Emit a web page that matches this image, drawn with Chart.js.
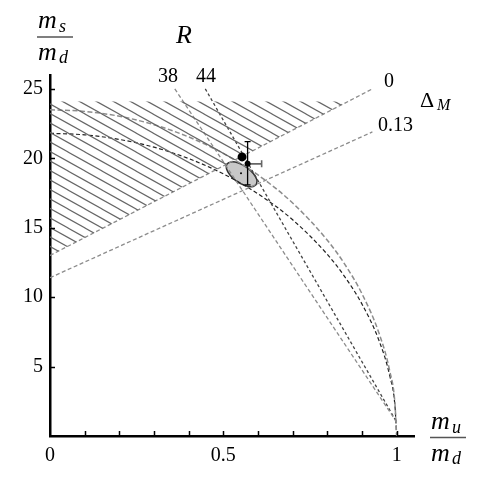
<!DOCTYPE html>
<html>
<head>
<meta charset="utf-8">
<script src="https://cdn.jsdelivr.net/npm/chart.js@4.4.1/dist/chart.umd.min.js"></script>
<style>
  html, body { margin: 0; padding: 0; background: #fff; }
  #wrap { width: 482px; height: 482px; }
</style>
</head>
<body>
<div id="wrap"><canvas id="chart" width="482" height="482"></canvas></div>
<script>
// axis ticks
const xTickValues = [0, 0.1, 0.2, 0.3, 0.4, 0.5, 0.6, 0.7, 0.8, 0.9, 1];
const xTickLabels = ["0", "", "", "", "", "0.5", "", "", "", "", "1"];
const yTickValues = [5, 10, 15, 20, 25];
const yTickLabels = ["5", "10", "15", "20", "25"];

// Delta_M lines (0 and 0.13)
const delta0X = [0, 0.93];
const delta0Y = [13.0, 25.0];
const delta13X = [0, 0.93];
const delta13Y = [11.4, 21.9];

// R lines (38 and 44)
const r38X = [0.36, 1.0];
const r38Y = [25.0, 1.0];
const r44X = [0.448, 1.0];
const r44Y = [25.0, 1.0];

// Q ellipses (upper grey and lower dark)
const qX = [0, 0.1, 0.2, 0.3, 0.4, 0.5, 0.6, 0.7, 0.8, 0.85, 0.9, 0.95, 0.98, 0.995, 1];
const qUpperY = [23.5, 23.38, 23.03, 22.42, 21.54, 20.35, 18.8, 16.78, 14.1, 12.38, 10.24, 7.34, 4.68, 2.35, 0];
const qLowerY = [21.8, 21.69, 21.36, 20.8, 19.98, 18.88, 17.44, 15.57, 13.08, 11.48, 9.5, 6.81, 4.34, 2.18, 0];

// hatched (excluded) region
const hatchX = [0, 0, 0.86, 0];
const hatchY = [13.0, 24.1, 24.1, 13.0];

// error ellipse outline
const ellX = [0.5953, 0.5826, 0.5622, 0.5388, 0.5195, 0.5091, 0.5105, 0.5232, 0.5440, 0.5671, 0.5864, 0.5968, 0.5953];
const ellY = [18.106, 17.955, 18.041, 18.344, 18.783, 19.244, 19.590, 19.741, 19.654, 19.352, 18.913, 18.452, 18.106];
const ellCenter = [0.551, 18.92];

// data points
const bigDot = [0.554, 20.1];
const errPoint = [0.570, 19.6];
const errY = [18.08, 21.2];
const errX = [0.570, 0.6105];

function pts(xs, ys) {
  return xs.map((x, i) => ({ x: x, y: ys[i] }));
}

function makeHatch() {
  const w = 17, h = 9.5;
  const c = document.createElement("canvas");
  c.width = w; c.height = Math.round(h * 2);
  const g = c.getContext("2d");
  g.strokeStyle = "#666";
  g.lineWidth = 1.1;
  const hh = c.height / 2;
  for (let k = -1; k <= 2; k++) {
    g.beginPath();
    g.moveTo(-w, -hh + k * hh);
    g.lineTo(2 * w, 2 * hh + k * hh);
    g.stroke();
  }
  return g.createPattern(c, "repeat");
}

function line(data, color, dash, width) {
  return {
    data: data, showLine: true, fill: false,
    borderColor: color, borderWidth: width || 1.3, borderDash: dash,
    pointRadius: 0, tension: 0
  };
}

const serif = "'Liberation Serif', 'DejaVu Serif', serif";

const decorations = {
  id: "decorations",
  afterDatasetsDraw(chart) {
    const { ctx, scales: { x, y }, chartArea } = chart;
    ctx.save();
    // inward tick marks
    ctx.strokeStyle = "#000";
    ctx.lineWidth = 1.5;
    xTickValues.forEach((v) => {
      if (v === 0) return;
      const px = Math.round(x.getPixelForValue(v)) + 0.5;
      ctx.beginPath();
      ctx.moveTo(px, chartArea.bottom);
      ctx.lineTo(px, chartArea.bottom - 5);
      ctx.stroke();
    });
    yTickValues.forEach((v) => {
      const py = Math.round(y.getPixelForValue(v)) + 0.5;
      ctx.beginPath();
      ctx.moveTo(chartArea.left, py);
      ctx.lineTo(chartArea.left + 5, py);
      ctx.stroke();
    });

    // error bars
    const ex = x.getPixelForValue(errPoint[0]);
    const y1 = y.getPixelForValue(errY[0]);
    const y2 = y.getPixelForValue(errY[1]);
    ctx.strokeStyle = "#000";
    ctx.lineWidth = 1.3;
    ctx.beginPath();
    ctx.moveTo(ex, y1); ctx.lineTo(ex, y2);
    ctx.moveTo(ex - 3, y1); ctx.lineTo(ex + 3, y1);
    ctx.moveTo(ex - 3, y2); ctx.lineTo(ex + 3, y2);
    ctx.stroke();
    const ey = y.getPixelForValue(errPoint[1]);
    const x2 = x.getPixelForValue(errX[1]);
    ctx.strokeStyle = "#666";
    ctx.lineWidth = 1.6;
    ctx.beginPath();
    ctx.moveTo(ex, ey); ctx.lineTo(x2, ey);
    ctx.moveTo(x2, ey - 3.5); ctx.lineTo(x2, ey + 3.5);
    ctx.stroke();

    // dots
    ctx.fillStyle = "#000";
    ctx.beginPath();
    ctx.arc(x.getPixelForValue(bigDot[0]), y.getPixelForValue(bigDot[1]), 4.5, 0, Math.PI * 2);
    ctx.fill();
    ctx.beginPath();
    ctx.arc(ex, ey, 3, 0, Math.PI * 2);
    ctx.fill();
    ctx.beginPath();
    ctx.arc(x.getPixelForValue(ellCenter[0]), y.getPixelForValue(ellCenter[1]), 1, 0, Math.PI * 2);
    ctx.fill();

    // labels
    ctx.fillStyle = "#000";
    ctx.textBaseline = "alphabetic";
    ctx.textAlign = "center";
    ctx.font = "20px " + serif;
    ctx.fillText("38", 168, 82);
    ctx.fillText("44", 206, 82);
    ctx.textAlign = "left";
    ctx.fillText("0", 384, 87);
    ctx.fillText("0.13", 378, 131);
    ctx.font = "italic 26px " + serif;
    ctx.textAlign = "center";
    ctx.fillText("R", 184, 43);
    ctx.textAlign = "left";
    ctx.font = "22px " + serif;
    ctx.fillText("\u0394", 420, 107);
    ctx.font = "italic 16px " + serif;
    ctx.fillText("M", 437, 110);

    // axis titles as fractions
    function frac(cx, topBase, barY, botBase, sub1, sub2) {
      ctx.font = "italic 26px " + serif;
      ctx.textAlign = "left";
      ctx.fillText("m", cx - 17, topBase);
      ctx.fillText("m", cx - 17, botBase);
      ctx.font = "italic 18px " + serif;
      ctx.fillText(sub1, cx + 4, topBase + 4);
      ctx.fillText(sub2, cx + 4, botBase + 3);
      ctx.strokeStyle = "#555";
      ctx.lineWidth = 1.5;
      ctx.beginPath();
      ctx.moveTo(cx - 18, barY);
      ctx.lineTo(cx + 18, barY);
      ctx.stroke();
    }
    frac(55, 28, 37, 60, "s", "d");
    frac(448, 429, 437.5, 461, "u", "d");
    ctx.restore();
  }
};

const ctx = document.getElementById("chart");
const hatch = makeHatch();

new Chart(ctx, {
  type: "scatter",
  data: {
    datasets: [
      {
        data: pts(hatchX, hatchY), showLine: true, fill: "shape",
        backgroundColor: hatch, borderColor: "rgba(0,0,0,0)", borderWidth: 0,
        pointRadius: 0, tension: 0
      },
      line(pts(delta0X, delta0Y), "#8c8c8c", [4, 2.5]),
      line(pts(delta13X, delta13Y), "#8c8c8c", [4, 2.5]),
      line(pts(r38X, r38Y), "#8c8c8c", [4, 2.5]),
      line(pts(r44X, r44Y), "#444", [3, 2.5]),
      Object.assign(line(pts(qX, qUpperY), "#8c8c8c", [5, 2.5], 1.5), { cubicInterpolationMode: "monotone" }),
      Object.assign(line(pts(qX, qLowerY), "#222", [4, 2.5], 1.2), { cubicInterpolationMode: "monotone" }),
      {
        data: pts(ellX, ellY), showLine: true, fill: "shape",
        backgroundColor: "#c8c8c8", borderColor: "#333", borderWidth: 1.5,
        pointRadius: 0, tension: 0.4
      }
    ]
  },
  options: {
    responsive: false,
    animation: false,
    events: [],
    layout: { padding: { top: 75, right: 68, left: 0, bottom: 0 } },
    plugins: { legend: { display: false }, tooltip: { enabled: false } },
    scales: {
      x: {
        type: "linear", min: 0, max: 1.05,
        afterBuildTicks: (s) => { s.ticks = xTickValues.map((v) => ({ value: v })); },
        afterFit: (s) => { s.height = 46; },
        grid: { display: false, drawTicks: false },
        border: { display: true, color: "#000", width: 2.5 },
        ticks: {
          autoSkip: false, maxRotation: 0, padding: 8, color: "#000",
          font: { family: serif, size: 20 },
          callback: (v, i) => xTickLabels[i]
        }
      },
      y: {
        type: "linear", min: 0, max: 26,
        afterBuildTicks: (s) => { s.ticks = yTickValues.map((v) => ({ value: v })); },
        afterFit: (s) => { s.width = 50; },
        grid: { display: false, drawTicks: false },
        border: { display: true, color: "#000", width: 2.5 },
        ticks: {
          autoSkip: false, padding: 7, color: "#000",
          font: { family: serif, size: 20 },
          callback: (v, i) => yTickLabels[i]
        }
      }
    }
  },
  plugins: [decorations]
});
</script>
</body>
</html>
